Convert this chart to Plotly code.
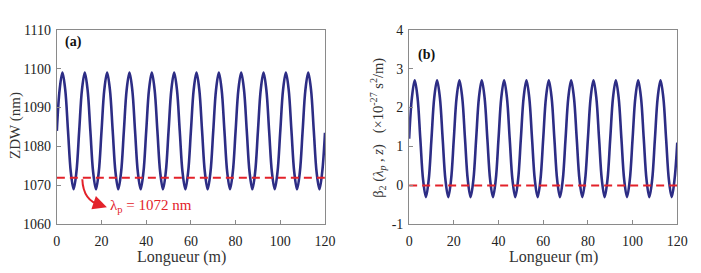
import plotly.graph_objects as go

# Length samples (m)
z = [0, 1.25, 2.5, 3.75, 5, 6.25, 7.5, 8.75,
     10, 11.25, 12.5, 13.75, 15, 16.25, 17.5, 18.75,
     20, 21.25, 22.5, 23.75, 25, 26.25, 27.5, 28.75,
     30, 31.25, 32.5, 33.75, 35, 36.25, 37.5, 38.75,
     40, 41.25, 42.5, 43.75, 45, 46.25, 47.5, 48.75,
     50, 51.25, 52.5, 53.75, 55, 56.25, 57.5, 58.75,
     60, 61.25, 62.5, 63.75, 65, 66.25, 67.5, 68.75,
     70, 71.25, 72.5, 73.75, 75, 76.25, 77.5, 78.75,
     80, 81.25, 82.5, 83.75, 85, 86.25, 87.5, 88.75,
     90, 91.25, 92.5, 93.75, 95, 96.25, 97.5, 98.75,
     100, 101.25, 102.5, 103.75, 105, 106.25, 107.5, 108.75,
     110, 111.25, 112.5, 113.75, 115, 116.25, 117.5, 118.75,
     120]

# ZDW (nm)
zdw = [1084, 1094.6, 1099, 1094.6, 1084, 1073.4, 1069, 1073.4,
       1084, 1094.6, 1099, 1094.6, 1084, 1073.4, 1069, 1073.4,
       1084, 1094.6, 1099, 1094.6, 1084, 1073.4, 1069, 1073.4,
       1084, 1094.6, 1099, 1094.6, 1084, 1073.4, 1069, 1073.4,
       1084, 1094.6, 1099, 1094.6, 1084, 1073.4, 1069, 1073.4,
       1084, 1094.6, 1099, 1094.6, 1084, 1073.4, 1069, 1073.4,
       1084, 1094.6, 1099, 1094.6, 1084, 1073.4, 1069, 1073.4,
       1084, 1094.6, 1099, 1094.6, 1084, 1073.4, 1069, 1073.4,
       1084, 1094.6, 1099, 1094.6, 1084, 1073.4, 1069, 1073.4,
       1084, 1094.6, 1099, 1094.6, 1084, 1073.4, 1069, 1073.4,
       1084, 1094.6, 1099, 1094.6, 1084, 1073.4, 1069, 1073.4,
       1084, 1094.6, 1099, 1094.6, 1084, 1073.4, 1069, 1073.4,
       1083.5]

# beta2 (x1e-27 s^2/m)
beta2 = [1.2, 2.26, 2.7, 2.26, 1.2, 0.14, -0.3, 0.14,
         1.2, 2.26, 2.7, 2.26, 1.2, 0.14, -0.3, 0.14,
         1.2, 2.26, 2.7, 2.26, 1.2, 0.14, -0.3, 0.14,
         1.2, 2.26, 2.7, 2.26, 1.2, 0.14, -0.3, 0.14,
         1.2, 2.26, 2.7, 2.26, 1.2, 0.14, -0.3, 0.14,
         1.2, 2.26, 2.7, 2.26, 1.2, 0.14, -0.3, 0.14,
         1.2, 2.26, 2.7, 2.26, 1.2, 0.14, -0.3, 0.14,
         1.2, 2.26, 2.7, 2.26, 1.2, 0.14, -0.3, 0.14,
         1.2, 2.26, 2.7, 2.26, 1.2, 0.14, -0.3, 0.14,
         1.2, 2.26, 2.7, 2.26, 1.2, 0.14, -0.3, 0.14,
         1.2, 2.26, 2.7, 2.26, 1.2, 0.14, -0.3, 0.14,
         1.2, 2.26, 2.7, 2.26, 1.2, 0.14, -0.3, 0.14,
         1.1]

pump_x = [0, 120]
pump_zdw = [1072, 1072]
pump_beta2 = [0, 0]

x_ticks = [0, 20, 40, 60, 80, 100, 120]
ya_ticks = [1060, 1070, 1080, 1090, 1100, 1110]
yb_ticks = [-1, 0, 1, 2, 3, 4]
yb_ticktext = ["-1", "0", "1", "2", "3", "4"]

NAVY = "#2d2d85"
RED = "#e3222a"
FONT = "Liberation Serif, Times New Roman, serif"
W, H = 701, 273

fig = go.Figure()
fig.add_trace(go.Scatter(x=z, y=zdw, mode="lines", line=dict(color=NAVY, width=2.6, shape="spline"),
                         xaxis="x", yaxis="y", showlegend=False))
fig.add_trace(go.Scatter(x=pump_x, y=pump_zdw, mode="lines", line=dict(color=RED, width=2, dash="8px,5px"),
                         xaxis="x", yaxis="y", showlegend=False))
fig.add_trace(go.Scatter(x=z, y=beta2, mode="lines", line=dict(color=NAVY, width=2.6, shape="spline"),
                         xaxis="x2", yaxis="y2", showlegend=False))
fig.add_trace(go.Scatter(x=pump_x, y=pump_beta2, mode="lines", line=dict(color=RED, width=2, dash="8px,5px"),
                         xaxis="x2", yaxis="y2", showlegend=False))

ydom = [1 - 230 / H, 1 - 24 / H]
axis_common = dict(showline=True, linecolor="#8a8a8a", linewidth=1, mirror=True, ticks="inside",
                   ticklen=4, tickcolor="#8a8a8a", showgrid=False, zeroline=False,
                   tickfont=dict(family=FONT, size=14, color="#222"))
fig.update_layout(
    width=W, height=H, margin=dict(l=0, r=0, t=0, b=0),
    paper_bgcolor="white", plot_bgcolor="white",
    font=dict(family=FONT, color="#222"),
    xaxis=dict(domain=[54 / W, 328 / W], range=[0, 120], tickvals=x_ticks, anchor="y",
               ticklabelstandoff=4, **axis_common),
    yaxis=dict(domain=ydom, range=[1060, 1110], tickvals=ya_ticks, anchor="x",
               ticklabelstandoff=2, **axis_common),
    xaxis2=dict(domain=[414 / W, 688 / W], range=[0, 120], tickvals=x_ticks, anchor="y2",
                ticklabelstandoff=4, **axis_common),
    yaxis2=dict(domain=ydom, range=[-1, 4], tickvals=yb_ticks, ticktext=yb_ticktext, anchor="x2",
                ticklabelstandoff=2, **axis_common),
)

# axis titles placed as in the reference
tfont = dict(family=FONT, size=16, color="#333")
fig.add_annotation(x=181 / W, y=1 - 265 / H, xref="paper", yref="paper", text="Longueur (m)",
                   showarrow=False, xanchor="center", yanchor="middle", font=tfont)
fig.add_annotation(x=562 / W, y=1 - 265 / H, xref="paper", yref="paper", text="Longueur (m)",
                   showarrow=False, xanchor="center", yanchor="middle", font=tfont)
fig.add_annotation(x=11 / W, y=1 - 125 / H, xref="paper", yref="paper", text="ZDW (nm)", textangle=-90,
                   showarrow=False, xanchor="center", yanchor="middle",
                   font=dict(family=FONT, size=15, color="#333"))
fig.add_annotation(x=382 / W, y=1 - 128 / H, xref="paper", yref="paper",
                   text="β<sub>2</sub> (<i>λ<sub>p</sub></i> , <i>z</i>)   (×10<sup>-27</sup> s<sup>2</sup>/m)",
                   textangle=-90, showarrow=False, xanchor="center", yanchor="middle",
                   font=dict(family=FONT, size=14.5, color="#333"))

fig.add_annotation(x=2.9, y=1106.8, xref="x", yref="y", text="<b>(a)</b>", showarrow=False,
                   xanchor="left", yanchor="middle", font=dict(family=FONT, size=14, color="#111"))
fig.add_annotation(x=2.9, y=3.36, xref="x2", yref="y2", text="<b>(b)</b>", showarrow=False,
                   xanchor="left", yanchor="middle", font=dict(family=FONT, size=14, color="#111"))

# curved red arrow pointing to the pump label
fig.add_shape(type="path", xref="x", yref="y",
              path="M 11.4,1071.6 Q 11.8,1066.0 19.5,1065.0",
              line=dict(color=RED, width=2))
fig.add_annotation(x=22.4, y=1064.4, ax=18.8, ay=1065.1, xref="x", yref="y", axref="x", ayref="y",
                   text="", showarrow=True, arrowhead=2, arrowsize=1.4, arrowwidth=2, arrowcolor=RED)
fig.add_annotation(x=22.8, y=1064.7, xref="x", yref="y", text="λ<sub>p</sub> = 1072 nm", showarrow=False,
                   xanchor="left", yanchor="middle", font=dict(family=FONT, size=15, color=RED))

fig.write_html("out.html")
